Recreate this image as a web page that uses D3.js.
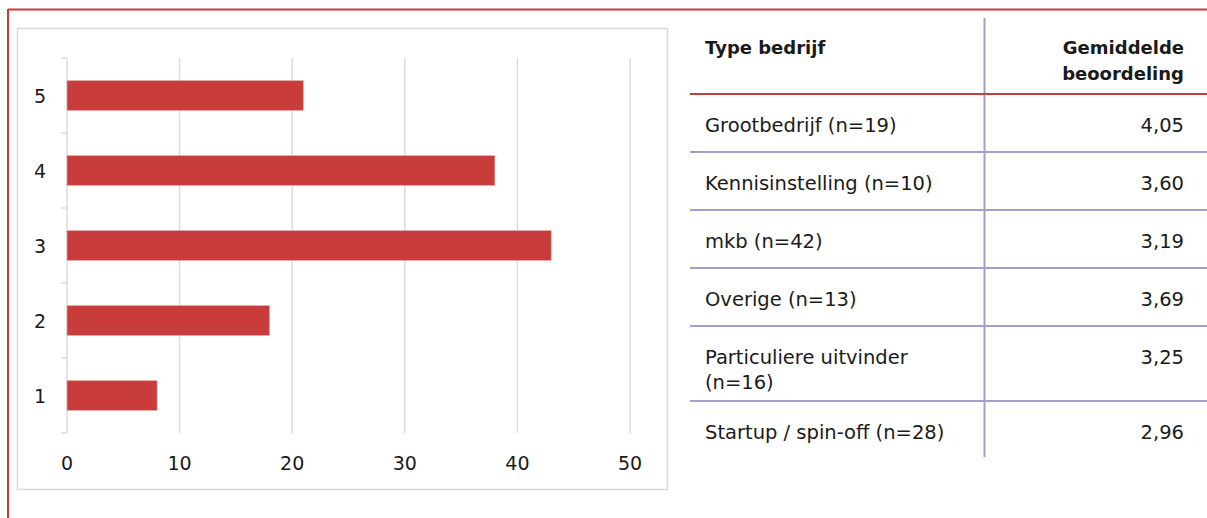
<!DOCTYPE html>
<html>
<head>
<meta charset="utf-8">
<script src="https://cdn.jsdelivr.net/npm/d3@7"></script>
<style>
  body { margin: 0; background: #fff; }
  text { font-family: "DejaVu Sans", sans-serif; fill: #1a1a1a; }
</style>
</head>
<body>
<div id="chart"></div>
<script>
// Data
var scores = ["5", "4", "3", "2", "1"];
var counts = [21, 38, 43, 18, 8];
var xTicks = [0, 10, 20, 30, 40, 50];

var types = [
  ["Grootbedrijf (n=19)"],
  ["Kennisinstelling (n=10)"],
  ["mkb (n=42)"],
  ["Overige (n=13)"],
  ["Particuliere uitvinder", "(n=16)"],
  ["Startup / spin-off (n=28)"]
];
var ratings = [4.05, 3.60, 3.19, 3.69, 3.25, 2.96];

var red = "#c83c3c";
var lav = "#a49fc8";
var grey = "#d9d9d9";

var svg = d3.select("#chart")
  .append("svg")
  .attr("width", 1207)
  .attr("height", 518);

// outer red frame (top + left)
svg.append("line")
  .attr("x1", 8).attr("x2", 1207).attr("y1", 9.5).attr("y2", 9.5)
  .attr("stroke", red).attr("stroke-width", 2);
svg.append("line")
  .attr("x1", 8).attr("x2", 8).attr("y1", 9).attr("y2", 518)
  .attr("stroke", red).attr("stroke-width", 2);

// chart box
svg.append("rect")
  .attr("x", 17.5).attr("y", 28.5)
  .attr("width", 650).attr("height", 461)
  .attr("fill", "none")
  .attr("stroke", grey)
  .attr("stroke-width", 1.5);

// scales
var xScale = d3.scaleLinear()
  .domain([0, 50])
  .range([67, 630]);

var yScale = d3.scaleBand()
  .domain(scores)
  .range([58, 433])
  .paddingInner(0.6)
  .paddingOuter(0.3);

var step = yScale.step();

// gridlines
svg.append("g")
  .selectAll("line")
  .data(xTicks)
  .enter()
  .append("line")
  .attr("x1", d => xScale(d))
  .attr("x2", d => xScale(d))
  .attr("y1", 58)
  .attr("y2", 433)
  .attr("stroke", grey)
  .attr("stroke-width", 1.4);

// y axis ticks at category boundaries
var bounds = scores.map(s => yScale(s) + yScale.bandwidth() / 2 - step / 2);
bounds.push(bounds[bounds.length - 1] + step);

svg.append("g")
  .selectAll("line")
  .data(bounds)
  .enter()
  .append("line")
  .attr("x1", xScale(0) - 6)
  .attr("x2", xScale(0))
  .attr("y1", d => d)
  .attr("y2", d => d)
  .attr("stroke", grey)
  .attr("stroke-width", 1.4);

// bars
svg.append("g")
  .selectAll("rect")
  .data(scores)
  .enter()
  .append("rect")
  .attr("x", xScale(0))
  .attr("y", d => yScale(d))
  .attr("width", (d, i) => xScale(counts[i]) - xScale(0))
  .attr("height", yScale.bandwidth())
  .attr("fill", red)
  .attr("stroke", "#e8b4b4")
  .attr("stroke-width", 0.6);

// y labels
svg.append("g")
  .selectAll("text")
  .data(scores)
  .enter()
  .append("text")
  .attr("x", 46)
  .attr("y", d => yScale(d) + yScale.bandwidth() / 2 + 7)
  .attr("text-anchor", "end")
  .style("font-size", "19px")
  .text(d => d);

// x labels
svg.append("g")
  .selectAll("text")
  .data(xTicks)
  .enter()
  .append("text")
  .attr("x", d => xScale(d))
  .attr("y", 470)
  .attr("text-anchor", "middle")
  .style("font-size", "19px")
  .text(d => d);

// ---- table ----
var fmt = d3.formatLocale({ decimal: ",", thousands: ".", grouping: [3], currency: ["€", ""] }).format(".2f");

var tLeft = 690, tRight = 1207, colX = 984.5, txtL = 705, txtR = 1184;

svg.append("text")
  .attr("x", txtL).attr("y", 54)
  .style("font-size", "18px").style("font-weight", "bold")
  .text("Type bedrijf");
svg.append("text")
  .attr("x", txtR).attr("y", 54)
  .attr("text-anchor", "end")
  .style("font-size", "18px").style("font-weight", "bold")
  .text("Gemiddelde");
svg.append("text")
  .attr("x", txtR).attr("y", 80)
  .attr("text-anchor", "end")
  .style("font-size", "18px").style("font-weight", "bold")
  .text("beoordeling");

// rows
var rowY = 94;
var rowTops = [];
types.forEach(function(t) {
  rowTops.push(rowY);
  rowY += 58 + 17 * (t.length - 1);
});

// row separators (lavender)
svg.append("g")
  .selectAll("line")
  .data(rowTops.slice(1))
  .enter()
  .append("line")
  .attr("x1", tLeft).attr("x2", tRight)
  .attr("y1", d => d).attr("y2", d => d)
  .attr("stroke", lav).attr("stroke-width", 2);

// column divider
svg.append("line")
  .attr("x1", colX).attr("x2", colX)
  .attr("y1", 18).attr("y2", 457)
  .attr("stroke", lav).attr("stroke-width", 2);

// header red line
svg.append("line")
  .attr("x1", tLeft).attr("x2", tRight)
  .attr("y1", 94).attr("y2", 94)
  .attr("stroke", red).attr("stroke-width", 2);

var rows = svg.append("g")
  .selectAll("g")
  .data(types)
  .enter()
  .append("g");

rows.append("text")
  .attr("x", txtL)
  .attr("y", (d, i) => rowTops[i] + 38)
  .style("font-size", "19.5px")
  .selectAll("tspan")
  .data(d => d)
  .enter()
  .append("tspan")
  .attr("x", txtL)
  .attr("dy", (d, j) => j === 0 ? 0 : 25)
  .text(d => d);

rows.append("text")
  .attr("x", txtR)
  .attr("y", (d, i) => rowTops[i] + 38)
  .attr("text-anchor", "end")
  .style("font-size", "19.5px")
  .text((d, i) => fmt(ratings[i]));
</script>
</body>
</html>
